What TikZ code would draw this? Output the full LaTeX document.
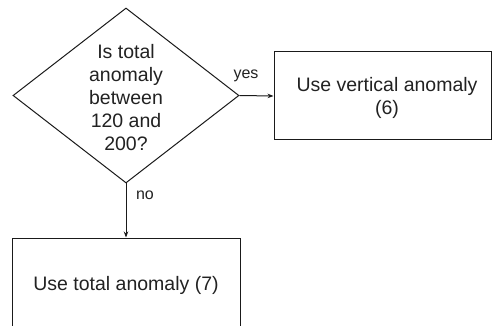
\documentclass[tikz,border=0pt]{standalone}
\usepackage{fontspec}
\setmainfont{Liberation Sans}
\usetikzlibrary{shapes.geometric,arrows.meta}
\definecolor{linec}{HTML}{1A1A1A}
\definecolor{textc}{HTML}{222222}
\tikzset{
  shp/.style={draw=linec, line width=1pt},
  txt/.style={text=textc, font=\fontsize{19.5pt}{23pt}\selectfont, align=center, inner sep=0pt},
  lbl/.style={text=textc, font=\fontsize{16pt}{18pt}\selectfont, inner sep=0pt},
  conn/.style={draw=linec, line width=1pt, -{Stealth[length=6pt,width=4.5pt]}}
}
\begin{document}
\begin{tikzpicture}[x=1pt,y=-1pt]
\clip (0,0) rectangle (493,326);
\fill[white] (0,0) rectangle (493,326);
\node[shp, diamond, minimum width=226pt, minimum height=175pt, inner sep=0pt] (d) at (126,95.5) {};
\node[txt] (dt) at (126,97.5) {Is total\\anomaly\\between\\120 and\\200?};
\node[shp, rectangle, minimum width=217pt, minimum height=88pt, inner sep=0pt] (r) at (382.5,96) {};
\node[txt] (rt) at (387,98) {Use vertical anomaly\\(6)};
\node[shp, rectangle, minimum width=228pt, minimum height=120pt, inner sep=0pt] (b) at (126,298) {};
\node[txt] (bt) at (126,285) {Use total anomaly (7)};
\draw[conn] (d.east) -- (r.west);
\draw[conn] (d.south) -- (b.north);
\node[lbl] (yes) at (246,76) {yes};
\node[lbl] (no) at (145,195) {no};
\end{tikzpicture}
\end{document}
